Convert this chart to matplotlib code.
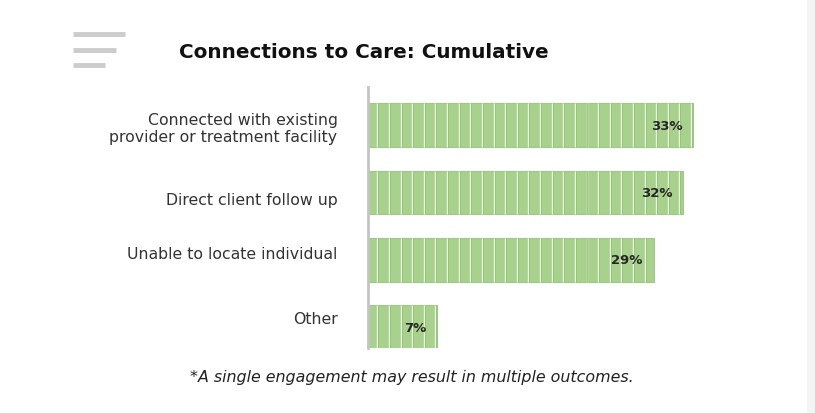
import numpy as np
import matplotlib
matplotlib.use("Agg")
import matplotlib.pyplot as plt
import matplotlib.transforms as mtransforms
from matplotlib.patches import Rectangle
from matplotlib.lines import Line2D

categories = ["Connected with existing\nprovider or treatment facility",
              "Direct client follow up",
              "Unable to locate individual",
              "Other"]
values = [33, 32, 29, 7]
value_labels = [f"{v}%" for v in values]

title = "Connections to Care: Cumulative"
footnote = "*A single engagement may result in multiple outcomes."

W, H = 815, 414
fig = plt.figure(figsize=(W / 100, H / 100), dpi=100)
fig.patch.set_facecolor("white")

# light gray strip on the right edge
fig.add_artist(Rectangle((807 / W, 0), 8 / W, 1, transform=fig.transFigure,
                         facecolor="#f4f4f4", edgecolor="none"))

# menu icon top left
for y, x1 in [(35, 125), (51, 116), (66, 105)]:
    fig.add_artist(Line2D([73 / W, x1 / W], [1 - y / H, 1 - y / H],
                          transform=fig.transFigure, color="#cccccc", lw=3.5,
                          solid_capstyle="butt"))

ax = fig.add_axes([368 / W, 65 / H, 394 / W, 261 / H])
y = np.arange(len(categories))
bar_h = 0.65
fill = "#a9d18e"
ax.barh(y, values, height=bar_h, color=fill, edgecolor="#9fc884", linewidth=0.8, zorder=2)

# vertical stripes inside the bars
step = 1.18
for yi, v in zip(y, values):
    xs = np.arange(step * 0.8, v, step)
    ax.vlines(xs, yi - bar_h / 2, yi + bar_h / 2, color="#eaf5e0", lw=1.0, zorder=3)
    ax.vlines(xs + 0.1, yi - bar_h / 2, yi + bar_h / 2, color="#93bf77", lw=0.6, zorder=3)

for yi, v, lab in zip(y, values, value_labels):
    ax.text(v - 1.1, yi, lab, ha="right", va="center", fontsize=9.5,
            fontweight="bold", color="#262626", zorder=4)

ax.set_xlim(0, 40)
ax.set_ylim(3.31, -0.565)
ax.set_yticks(y)
ax.set_yticklabels(categories, fontsize=11.3, color="#333333")
ax.tick_params(axis="y", length=0, pad=22)
ax.set_xticks([])
for s in ["top", "right", "bottom"]:
    ax.spines[s].set_visible(False)
ax.spines["left"].set_color("#c4c4c4")
ax.spines["left"].set_linewidth(2)

# labels in the original sit a bit off the bar centres
label_shift_px = [0, -6, 8, 10]
for lab, dy in zip(ax.get_yticklabels(), label_shift_px):
    lab.set_multialignment("right")
    lab.set_transform(lab.get_transform() +
                      mtransforms.ScaledTranslation(0, dy / 100, fig.dpi_scale_trans))

fig.text(364 / W, 1 - 52 / H, title, ha="center", va="center",
         fontsize=14.4, fontweight="bold", color="#111111")
fig.text(412 / W, 1 - 378 / H, footnote, ha="center", va="center",
         fontsize=11.4, style="italic", color="#222222")

fig.savefig("out.png", dpi=100)
